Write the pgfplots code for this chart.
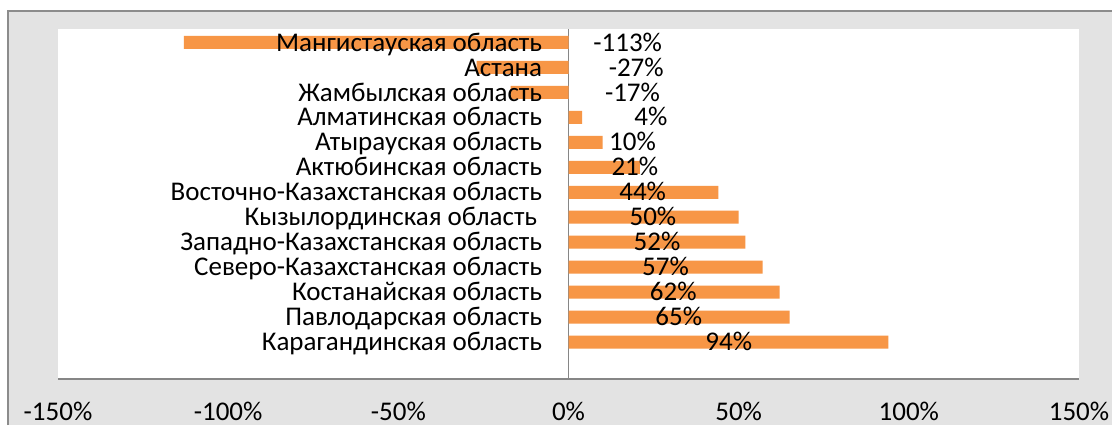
\documentclass[border=0pt]{standalone}
\usepackage{fontspec}
\setmainfont{Carlito}
\usepackage{pgfplots}
\usepackage{pgfplotstable}
\pgfplotsset{compat=1.18}
\definecolor{barorange}{HTML}{F79646}
\definecolor{bggray}{HTML}{E3E3E3}
\definecolor{framegray}{HTML}{8C8C8C}
\definecolor{axgray}{HTML}{868686}
\pgfplotstableread[col sep=comma]{
y,v,vx,nx,name
0,94,47.1,-7.65,Карагандинская область
1,65,32.4,-7.65,Павлодарская область
2,62,30.8,-7.65,Костанайская область
3,57,28.5,-7.65,Северо-Казахстанская область
4,52,26.0,-7.65,Западно-Казахстанская область
5,50,24.8,-9.1,Кызылординская область
6,44,21.8,-7.65,Восточно-Казахстанская область
7,21,19.5,-7.65,Актюбинская область
8,10,18.8,-7.65,Атырауская область
9,4,24.2,-7.65,Алматинская область
10,-17,18.8,-7.65,Жамбылская область
11,-27,19.9,-7.65,Астана
12,-113,17.4,-7.65,Мангистауская область
}\data
\newcommand{\lblfont}{\fontsize{13.5}{15}\selectfont}
\begin{document}
\begin{tikzpicture}[x=1pt,y=1pt]
\useasboundingbox (0,0) rectangle (556,212.5);
\fill[white] (0,0) rectangle (556,212.5);
\fill[bggray] (4,0) rectangle (556,207);
\draw[framegray, line width=1pt] (4,0) -- (4,207) -- (556,207);
\begin{axis}[
  at={(29pt,23pt)}, anchor=south west,
  scale only axis, width=510.5pt, height=175pt,
  xmin=-150, xmax=150, ymin=-1.48, ymax=12.54,
  axis background/.style={fill=white},
  axis x line*=bottom, axis y line=none,
  x axis line style={-, draw=axgray, line width=0.75pt},
  xtick={-150,-100,...,150},
  xticklabel={\pgfmathprintnumber{\tick}\%},
  /pgf/number format/assume math mode=true,
  major tick length=0pt,
  ytick=\empty,
  xticklabel style={font=\lblfont, text=black, yshift=-8pt},
  extra x ticks={0}, extra x tick labels={},
  extra x tick style={grid=major, major grid style={draw=axgray, line width=0.75pt}},
  clip=false,
]
\addplot[xbar, bar width=6.5pt, fill=barorange, draw=none] table[x=v, y=y] {\data};
\addplot[only marks, mark=none, nodes near coords, point meta=explicit symbolic,
  every node near coord/.style={anchor=base east, inner sep=0pt, yshift=-4.3pt, font=\lblfont, text=black}]
  table[x=nx, y=y, meta=name] {\data};
\addplot[only marks, mark=none, nodes near coords={\pgfmathprintnumber{\pgfplotspointmeta}\%}, point meta=\thisrow{v},
  every node near coord/.style={anchor=base, inner sep=0pt, yshift=-4.3pt, font=\lblfont, text=black}]
  table[x=vx, y=y] {\data};
\end{axis}
\end{tikzpicture}
\end{document}
